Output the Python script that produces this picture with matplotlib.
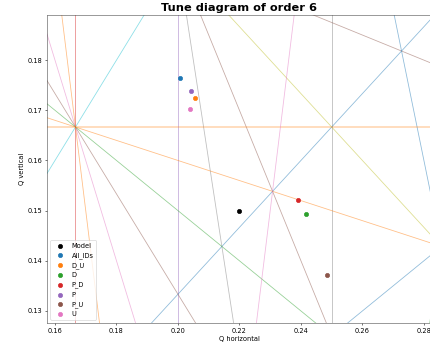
import matplotlib
matplotlib.use("Agg")
import matplotlib.pyplot as plt
import numpy as np

# resonance lines m*Qx + n*Qy = p
RES_M = [1, 1, 3, 4, 5, 4, 3, 2, 1, 2, 4, 6, 5, 4, 3, 2, 1, 0, 5]
RES_N = [-1, -2, 1, 0, 0, 1, 2, 3, 4, -3, -1, 0, 1, 2, 3, 4, 5, 6, -1]
RES_P = [0, 0, 1, 1, 1, 1, 1, 1, 1, 0, 1, 1, 1, 1, 1, 1, 1, 1, 1]
RES_COLORS = ["tab:cyan", "tab:blue", "tab:blue", "tab:gray", "tab:purple",
              "tab:gray", "tab:brown", "tab:olive", "tab:brown", "tab:blue",
              "tab:green", "tab:red", "tab:orange", "tab:pink", "tab:brown",
              "tab:green", "tab:orange", "tab:orange", "tab:pink"]

NAMES = ["All_IDs", "D_U", "D", "P_D", "P", "P_U", "U"]
QX = [0.2008, 0.2057, 0.2416, 0.2392, 0.2043, 0.2484, 0.2040]
QY = [0.1765, 0.1725, 0.1493, 0.1521, 0.1738, 0.1372, 0.1703]
MODEL_QX, MODEL_QY = 0.2200, 0.1500

XLIM = (0.1574, 0.2824)
YLIM = (0.1276, 0.1890)

fig = plt.figure(figsize=(430 / 48, 351 / 48), dpi=48)
ax = fig.add_axes([0.1093, 0.0798, 0.8937, 0.8775])
ax.set_xlim(*XLIM)
ax.set_ylim(*YLIM)

xs = np.linspace(XLIM[0], XLIM[1], 200)
for m, n, p, c in zip(RES_M, RES_N, RES_P, RES_COLORS):
    if n == 0:
        ax.axvline(p / m, color=c, alpha=0.5, lw=1.3)
    elif m == 0:
        ax.axhline(p / n, color=c, alpha=0.3, lw=2.6)
    else:
        ax.plot(xs, (p - m * xs) / n, color=c, alpha=0.5, lw=1.2)

ax.scatter([MODEL_QX], [MODEL_QY], color="black", s=40, label="Model", zorder=3)
for name, qx, qy in zip(NAMES, QX, QY):
    ax.scatter([qx], [qy], s=40, label=name, zorder=3)

ax.set_xlim(*XLIM)
ax.set_ylim(*YLIM)
for side in ax.spines.values():
    side.set_color("#444444")
ax.set_xlabel("Q horizontal")
ax.set_ylabel("Q vertical")
ax.set_title("Tune diagram of order 6", fontsize=17, fontweight="bold")
ax.legend(loc="lower left")

fig.savefig("out.png", dpi=48)
